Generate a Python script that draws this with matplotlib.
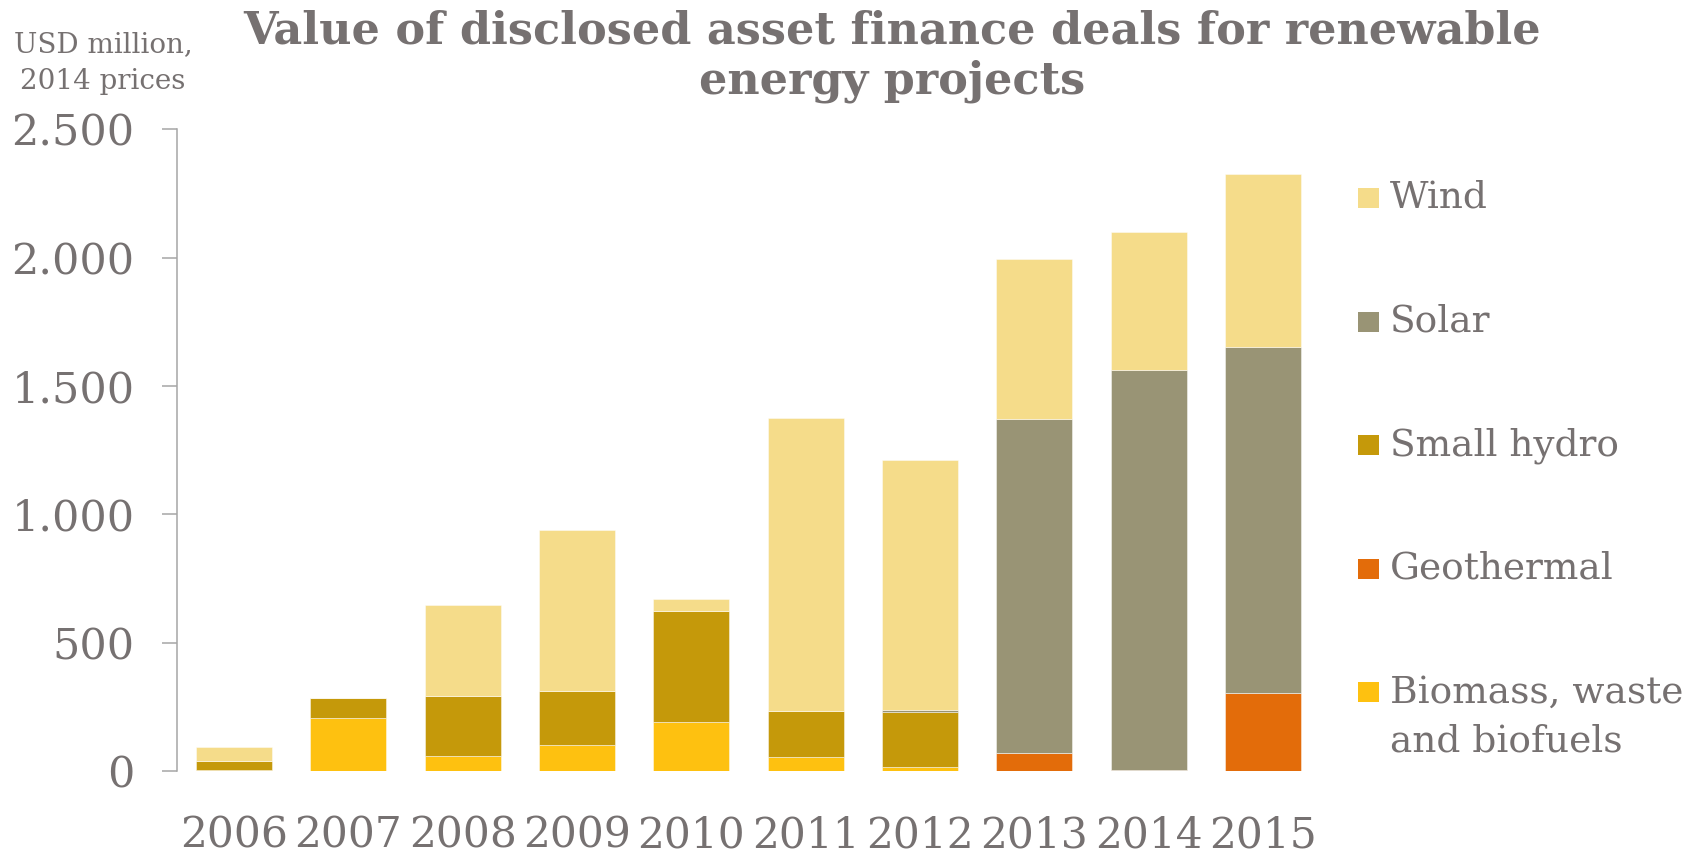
import matplotlib.pyplot as plt
import numpy as np
from matplotlib.patches import Rectangle
from matplotlib.ticker import FuncFormatter

# Asset finance deals by technology, USD million (2014 prices)
years = ['2006', '2007', '2008', '2009', '2010', '2011', '2012', '2013', '2014', '2015']
biomass = [4, 205, 57, 101, 191, 55, 16, 0, 0, 0]
geothermal = [0, 0, 0, 0, 0, 0, 0, 70, 3, 303]
small_hydro = [35, 80, 235, 212, 434, 179, 213, 0, 0, 0]
solar = [0, 0, 0, 0, 0, 0, 10, 1303, 1558, 1349]
wind = [56, 0, 355, 626, 44, 1142, 973, 621, 539, 673]

# stacking order, bottom to top
series_names = ['Biomass, waste\nand biofuels', 'Geothermal', 'Small hydro', 'Solar', 'Wind']
series_values = [biomass, geothermal, small_hydro, solar, wind]
colors = ['#FEC110', '#E36C0A', '#C5990A', '#999475', '#F5DC8A']

title = 'Value of disclosed asset finance deals for renewable\nenergy projects'
unit_label = 'USD million,\n2014 prices'

plt.rcParams['font.family'] = ['DejaVu Serif']
text_color = '#767171'
axis_color = '#A6A6A6'

W, H = 1696, 855
fig = plt.figure(figsize=(W / 100, H / 100), dpi=100)
ax = fig.add_axes([177 / W, 1 - 771 / H, (1320 - 177) / W, (771 - 129.3) / H])

x = np.arange(len(years))
bottom = np.zeros(len(years))
for name, vals, col in zip(series_names, series_values, colors):
    vals = np.array(vals, dtype=float)
    ax.bar(x, vals, 0.665, bottom=bottom, color=col,
           edgecolor=(1, 1, 1, 0.45), linewidth=0.7, label=name)
    bottom += vals

ax.set_xlim(-0.5, len(years) - 0.5)
ax.set_ylim(0, 2500)
ax.set_yticks(range(0, 2501, 500))
ax.yaxis.set_major_formatter(FuncFormatter(lambda v, p: f'{int(v):,}'.replace(',', '.')))
ax.set_xticks(x)
ax.set_xticklabels(years)

for side in ['top', 'right', 'bottom']:
    ax.spines[side].set_visible(False)
ax.spines['left'].set_color(axis_color)
ax.spines['left'].set_linewidth(1.1)

ax.tick_params(axis='y', direction='out', length=10.5, width=1.1, color=axis_color,
               pad=20, labelsize=31, labelcolor=text_color)
ax.tick_params(axis='x', length=0, pad=31, labelsize=30.5, labelcolor=text_color)

fig.text(892 / W, 1 - 9 / H, title, ha='center', va='top', fontsize=32,
         fontweight='bold', color=text_color, linespacing=1.22)
fig.text(103 / W, 1 - 63 / H, unit_label, ha='center', va='center', fontsize=20,
         color=text_color, linespacing=1.45)

# legend, top entry is the last stacked series
for i, (name, col) in enumerate(zip(series_names[::-1], colors[::-1])):
    yc = 198 + 123.6 * i
    fig.add_artist(Rectangle((1358 / W, 1 - (yc + 10) / H), 21 / W, 20 / H,
                             transform=fig.transFigure, color=col, lw=0))
    fig.text(1390 / W, 1 - (yc - 18) / H, name, ha='left', va='top', fontsize=27,
             color=text_color, linespacing=1.45)

fig.savefig('out.png', dpi=100)
